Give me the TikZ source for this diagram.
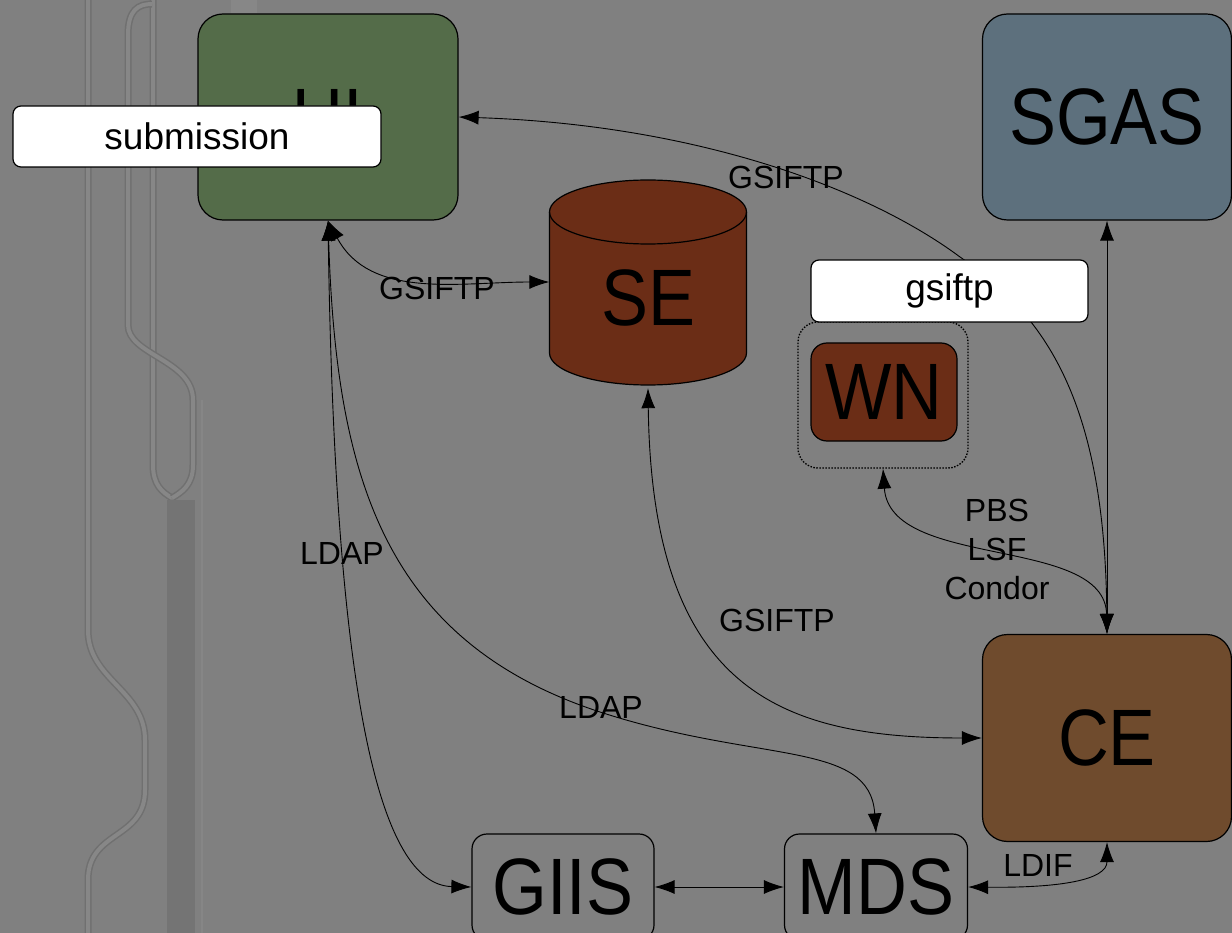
\documentclass[tikz,border=0pt]{standalone}
\usepackage{fontspec}
\setmainfont{Liberation Sans}
\newfontfamily\bigfont{Liberation Sans}[FakeStretch=0.88]
\usetikzlibrary{arrows.meta}

\definecolor{bggray}{HTML}{808080}
\definecolor{trackedge}{HTML}{707070}
\definecolor{trackfill}{HTML}{878787}
\definecolor{barfill}{HTML}{747474}
\definecolor{uigreen}{HTML}{546C49}
\definecolor{sgasblue}{HTML}{5D707D}
\definecolor{sered}{HTML}{6B2D16}
\definecolor{cebrown}{HTML}{6F4B2D}

\tikzset{
  box/.style={draw=black, line width=1.2pt, rounded corners=25pt, inner sep=0pt,
    font=\bigfont\fontsize{80}{80}\selectfont},
  tag/.style={draw=black, fill=white, line width=1.2pt, rounded corners=8pt, inner sep=0pt,
    font=\fontsize{37}{37}\selectfont},
  link/.style={{Latex[length=20pt,width=14pt]}-{Latex[length=20pt,width=14pt]}, line width=0.9pt},
  lbl/.style={font=\fontsize{32}{39}\selectfont, align=center, inner sep=0pt},
  track/.style={draw=trackedge, line width=1.5pt, double=trackfill, double distance=4pt},
}

\begin{document}
\begin{tikzpicture}[x=1pt, y=-1pt]
    \useasboundingbox (0,0) rectangle (1232,933);
    \clip (0,0) rectangle (1232,933);
    \fill[bggray] (0,0) rectangle (1232,933);

    % Background tracks on the left
    \draw[track] (88,-10) -- (88,630) .. controls (88,680) and (145,690) .. (145,740)
        -- (145,790) .. controls (145,840) and (88,830) .. (88,880) -- (88,950);
    \draw[track] (153,-10) -- (153,465) .. controls (153,485) and (162,492) .. (172,498);
    \draw[track] (152,4) .. controls (138,4) and (128,10) .. (128,35) -- (128,325)
        .. controls (128,355) and (193,360) .. (193,400) -- (193,465)
        .. controls (193,485) and (182,492) .. (172,498);
    \fill[barfill] (167,500) rectangle (195,950);
    \draw[bggray!95!white, line width=2pt] (202,400) -- (202,950);
    \fill[trackfill] (231,-5) rectangle (257,13);

    % Boxes
    \node[box, fill=uigreen, minimum width=260pt, minimum height=206pt] (UI) at (328,117) {UI};
    \node[box, fill=sgasblue, minimum width=249pt, minimum height=206pt] (SGAS) at (1107,117) {SGAS};
    \node[box, fill=cebrown, minimum width=249pt, minimum height=207pt] (CE) at (1107,738) {CE};
    \node[box, rounded corners=15pt, minimum width=182pt, minimum height=106pt] (GIIS) at (563,887) {GIIS};
    \node[box, rounded corners=15pt, minimum width=183pt, minimum height=106pt] (MDS) at (876,887) {MDS};

    % Storage element
    \fill[sered, draw=black, line width=1.2pt] (549.5,212) -- (549.5,353) arc (180:360:98.5pt and 32pt)
        -- (746.5,212) arc (0:180:98.5pt and 32pt) -- cycle;
    \draw[line width=1.2pt] (549.5,212) arc (180:360:98.5pt and 32pt);
    \node[inner sep=0pt, minimum width=197pt, minimum height=212pt] (SE) at (648,282) {};
    \node[inner sep=0pt, font=\bigfont\fontsize{80}{80}\selectfont] (SEname) at (648,298) {SE};

    % Worker node group
    \node[draw=black, line width=1.3pt, dash pattern=on 1.5pt off 1.5pt, rounded corners=20pt,
        minimum width=170pt, minimum height=146pt] (WNgroup) at (883,395) {};
    \node[box, fill=sered, rounded corners=16pt, minimum width=146pt, minimum height=98pt] (WN) at (884,392) {WN};

    % Connectors
    \draw[link] (UI.east) .. controls (700,125) and (870,190) .. (960,257)
        .. controls (1045,315) and (1105,400) .. (CE.north);
    \draw[link] (SGAS.south) -- (CE.north);
    \draw[link] (UI.south) to[out=-62,in=180] (SE.west);
    \draw[link] (UI.south) .. controls (335,700) and (380,885) .. (GIIS.west);
    \draw[link] (UI.south) .. controls (336,470) and (380,640) .. (600,712)
        .. controls (760,764) and (870,740) .. (MDS.north);
    \draw[link] (SE.south) .. controls (652,690) and (780,738) .. (CE.west);
    \draw[link] (WNgroup.south) .. controls (890,570) and (1105,535) .. (CE.north);
    \draw[link] (GIIS.east) -- (MDS.west);
    \draw[link] (MDS.east) .. controls (1060,888) and (1107,880) .. (CE.south);

    % Connector labels
    \node[lbl] (lgsiftpa) at (786,177) {GSIFTP};
    \node[lbl] (lgsiftpb) at (437,288) {GSIFTP};
    \node[lbl] (lgsiftpc) at (777,620) {GSIFTP};
    \node[lbl] (lldapa) at (342,553) {LDAP};
    \node[lbl] (lldapb) at (601,707) {LDAP};
    \node[lbl] (lbatch) at (997,549) {PBS\\LSF\\Condor};
    \node[lbl] (lldif) at (1038,865) {LDIF};

    % Tags
    \node[tag, minimum width=368pt, minimum height=61pt] (submission) at (197,136.5) {submission};
    \node[tag, minimum width=277pt, minimum height=62pt] (gsiftp) at (949.5,291) {gsiftp};
\end{tikzpicture}
\end{document}
